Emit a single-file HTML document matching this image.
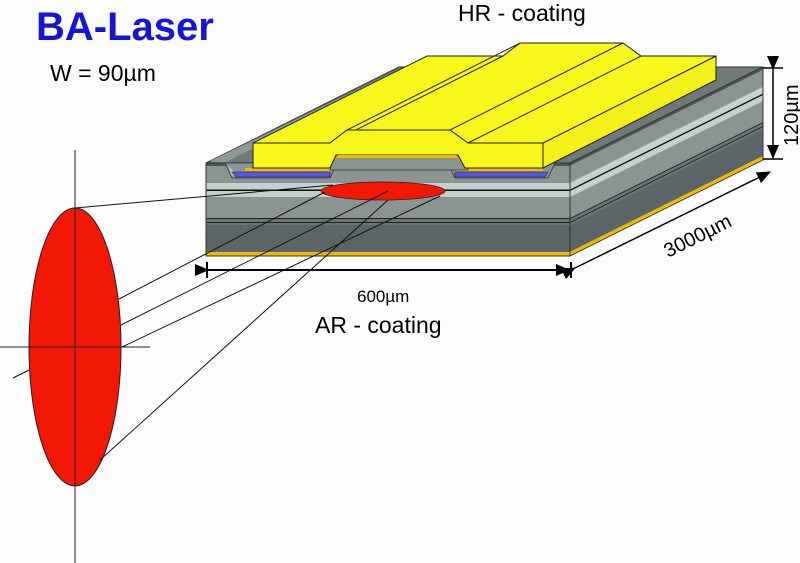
<!DOCTYPE html>
<html><head><meta charset="utf-8"><style>
html,body{margin:0;padding:0;background:#fcfcfc;}
svg{display:block}
text{font-family:"Liberation Sans",Arial,sans-serif}
</style></head><body>
<svg width="800" height="563" viewBox="0 0 800 563" xmlns="http://www.w3.org/2000/svg">
<defs>
<marker id="ah" markerWidth="14" markerHeight="12" refX="13" refY="6" orient="auto" markerUnits="userSpaceOnUse"><path d="M0,0 L14,6 L0,12 z" fill="#000"/></marker>
</defs>
<rect width="800" height="563" fill="#fcfcfc"/>
<text x="36" y="40" font-size="40" font-weight="bold" fill="#1515d8">BA-Laser</text>
<text x="50" y="81" font-size="23" fill="#000">W = 90µm</text>
<text x="458" y="21" font-size="23" fill="#000">HR - coating</text>
<text x="315" y="333" font-size="23" fill="#000">AR - coating</text>
<text x="357" y="302" font-size="17" fill="#000">600µm</text>

<!-- top surface of chip -->
<polygon points="206,163 570,163 763,67 399,67" fill="#6f7978" stroke="#333" stroke-width="1"/>
<polygon points="210,161 400,69 412,69 224,163" fill="#8f9a98"/>

<!-- right face -->
<g transform="matrix(1,-0.4974,0,1,570,0)">
<rect x="0" y="163" width="193" height="3" fill="#4e5656"/>
<rect x="0" y="166" width="193" height="17" fill="#8a9591"/>
<rect x="0" y="183" width="193" height="14" fill="#c4d0cc"/>
<rect x="0" y="189.5" width="193" height="1.5" fill="#111"/>
<rect x="0" y="197" width="193" height="21" fill="#8a9591"/>
<rect x="0" y="218" width="193" height="7" fill="#6a7474"/>
<rect x="0" y="218" width="193" height="1" fill="#222"/>
<rect x="0" y="222" width="193" height="1" fill="#222"/>
<rect x="0" y="225" width="193" height="27" fill="#5c6567"/>
<rect x="0" y="252" width="193" height="4" fill="#f5b800"/>
<rect x="0" y="163" width="193" height="93" fill="none" stroke="#333" stroke-width="1"/>
</g>

<!-- front face -->
<rect x="206" y="163" width="364" height="3" fill="#4e5656"/>
<rect x="206" y="166" width="364" height="17" fill="#8a9591"/>
<rect x="206" y="183" width="364" height="14" fill="#c4d0cc"/>
<rect x="206" y="189.5" width="364" height="1.5" fill="#111"/>
<rect x="206" y="197" width="364" height="21" fill="#8a9591"/>
<rect x="206" y="218" width="364" height="7" fill="#6a7474"/>
<rect x="206" y="218" width="364" height="1" fill="#222"/>
<rect x="206" y="222" width="364" height="1" fill="#222"/>
<rect x="206" y="225" width="364" height="27" fill="#5c6567"/>
<rect x="206" y="252" width="364" height="4" fill="#f5b800"/>
<rect x="206" y="163" width="364" height="93" fill="none" stroke="#333" stroke-width="1"/>

<!-- grooves -->
<polygon points="225,163 337,163 330,178 232,178" fill="#8a9591" stroke="#333" stroke-width="0.8"/>
<polygon points="228,165 236,174 236,177 231,175" fill="#b6c0bd"/>
<polygon points="232,172 330,172 330,177 236,177" fill="#5656e0" stroke="#223" stroke-width="0.6"/>
<polygon points="448,163 555,163 548,178 455,178" fill="#8a9591" stroke="#333" stroke-width="0.8"/>
<polygon points="455,172 548,172 545,177 455,177" fill="#5656e0" stroke="#223" stroke-width="0.6"/>
<polygon points="245,168 330,168 330,171 245,171" fill="#f5b800"/>
<polygon points="455,168 543,168 543,171 458,171" fill="#f5b800"/>
<polygon points="333,157 462,157 468,170 330,170" fill="#8a9591" stroke="#333" stroke-width="0.8"/>

<!-- yellow contact -->
<polygon points="543,143 716,56 716,80 543,168" fill="#f2f21a" stroke="#222" stroke-width="1"/>
<polygon points="253,143 330,143 347,130 450,130 468,143 543,143 716,56 641,56 623,43 520,43 503,56 427,56" fill="#f7f71c" stroke="#222" stroke-width="1"/>
<line x1="330" y1="143" x2="503" y2="56" stroke="#222"/>
<line x1="347" y1="130" x2="520" y2="43" stroke="#222"/>
<line x1="450" y1="130" x2="623" y2="43" stroke="#222"/>
<line x1="468" y1="143" x2="641" y2="56" stroke="#222"/>
<polygon points="253,143 330,143 347,130 450,130 468,143 543,143 543,168 465,168 458,155 336,155 330,168 253,168" fill="#f7f71c" stroke="#222" stroke-width="1"/>
<polygon points="338,155 456,155 459,158 335,158" fill="#f5b800"/>

<ellipse cx="383" cy="191" rx="62" ry="9" fill="#f31805" stroke="#222" stroke-width="0.8"/>

<ellipse cx="75" cy="347" rx="46" ry="139" fill="#f31805" stroke="#222" stroke-width="1"/>
<line x1="75" y1="150" x2="75" y2="563" stroke="#222" stroke-width="1"/>
<line x1="0" y1="347" x2="150" y2="347" stroke="#222" stroke-width="1"/>

<g stroke="#111" stroke-width="1">
<line x1="75" y1="208" x2="333" y2="185"/>
<line x1="119" y1="299" x2="325" y2="192"/>
<line x1="121" y1="325" x2="388" y2="191"/>
<line x1="13" y1="378" x2="29" y2="370"/>
<line x1="122" y1="347" x2="440" y2="196"/>
<line x1="100" y1="460" x2="388" y2="200"/>
</g>

<g stroke="#000" stroke-width="2">
<line x1="208" y1="270" x2="569" y2="270" marker-start="url(#ah)" marker-end="url(#ah)"/>
<line x1="207" y1="262" x2="207" y2="278"/>
<line x1="571" y1="262" x2="571" y2="278"/>
</g>
<g stroke="#000" stroke-width="1.5">
<line x1="575" y1="268" x2="770" y2="172" marker-start="url(#ah)" marker-end="url(#ah)"/>
</g>
<text x="0" y="0" font-size="20" transform="translate(668,258) rotate(-26.5)">3000µm</text>
<g stroke="#000" stroke-width="1.5">
<line x1="773" y1="69" x2="773" y2="158" marker-start="url(#ah)" marker-end="url(#ah)"/>
<line x1="763" y1="68" x2="783" y2="68"/>
<line x1="763" y1="159" x2="783" y2="159"/>
</g>
<text x="0" y="0" font-size="20" transform="translate(798,146) rotate(-90)">120µm</text>
</svg>
</body></html>
